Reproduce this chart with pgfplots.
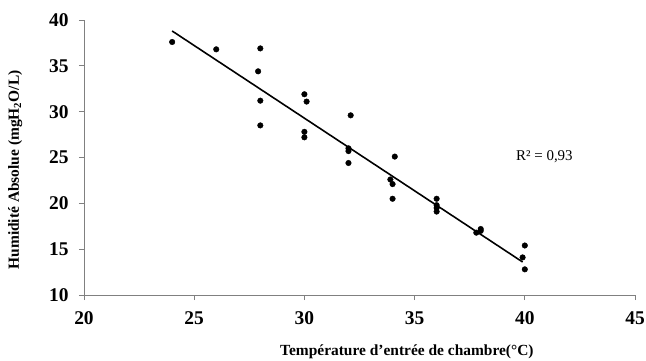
\documentclass[border=0pt]{standalone}
\usepackage{pgfplots}
\pgfplotsset{compat=1.18}
\usepackage{fontspec}
\setmainfont{Liberation Serif}
\begin{document}
\begin{tikzpicture}
\useasboundingbox (-84bp,-66bp) rectangle (562bp,295bp);
\begin{axis}[
  at={(0,0)}, anchor=south west,
  scale only axis, width=551bp, height=275bp,
  xmin=20, xmax=45, ymin=10, ymax=40,
  xtick={20,25,...,45}, ytick={10,15,...,40},
  axis x line*=bottom, axis y line*=left,
  axis line style={draw=gray, line width=0.8pt, -},
  every tick/.style={draw=gray, line width=0.8pt},
  tick align=outside, major tick length=5bp,
  /pgf/number format/assume math mode=true,
  ticklabel style={font=\fontsize{19.5}{22}\selectfont\bfseries, text=black},
  xticklabel style={yshift=-8bp},
  yticklabel style={xshift=-7bp},
  xlabel={Température d’entrée de chambre(°C)},
  ylabel={Humidité Absolue (mgH\textsubscript{2}O/L)},
  label style={font=\fontsize{15.5}{18}\selectfont\bfseries},
  xlabel style={at={(axis description cs:0.586,-0.207)}, anchor=center},
  ylabel style={at={(axis description cs:-0.125,0.455)}, anchor=center},
  clip=false,
]
\addplot[only marks, mark=*, mark size=2.8bp, black] coordinates {
(24,37.6) (26,36.8) (28,36.9) (27.9,34.4) (28,31.2) (28,28.5)
(30,31.9) (30.1,31.1) (30,27.8) (30,27.2)
(32.1,29.6) (32,26.0) (32,25.7) (32,24.4)
(34.1,25.1) (33.9,22.6) (34,22.1) (34,20.5)
(36,20.5) (36,19.8) (36,19.5) (36,19.1)
(37.8,16.8) (38,17.2) (38,17.0)
(40,15.4) (39.9,14.1) (40,12.8)
};
\addplot[black, line width=1.6pt] coordinates {(24,38.8) (39.9,13.6)};
\node[anchor=base west, font=\fontsize{15}{18}\selectfont, inner sep=0pt] at (axis cs:39.6,24.7) {R² = 0,93};
\end{axis}
\end{tikzpicture}
\end{document}
